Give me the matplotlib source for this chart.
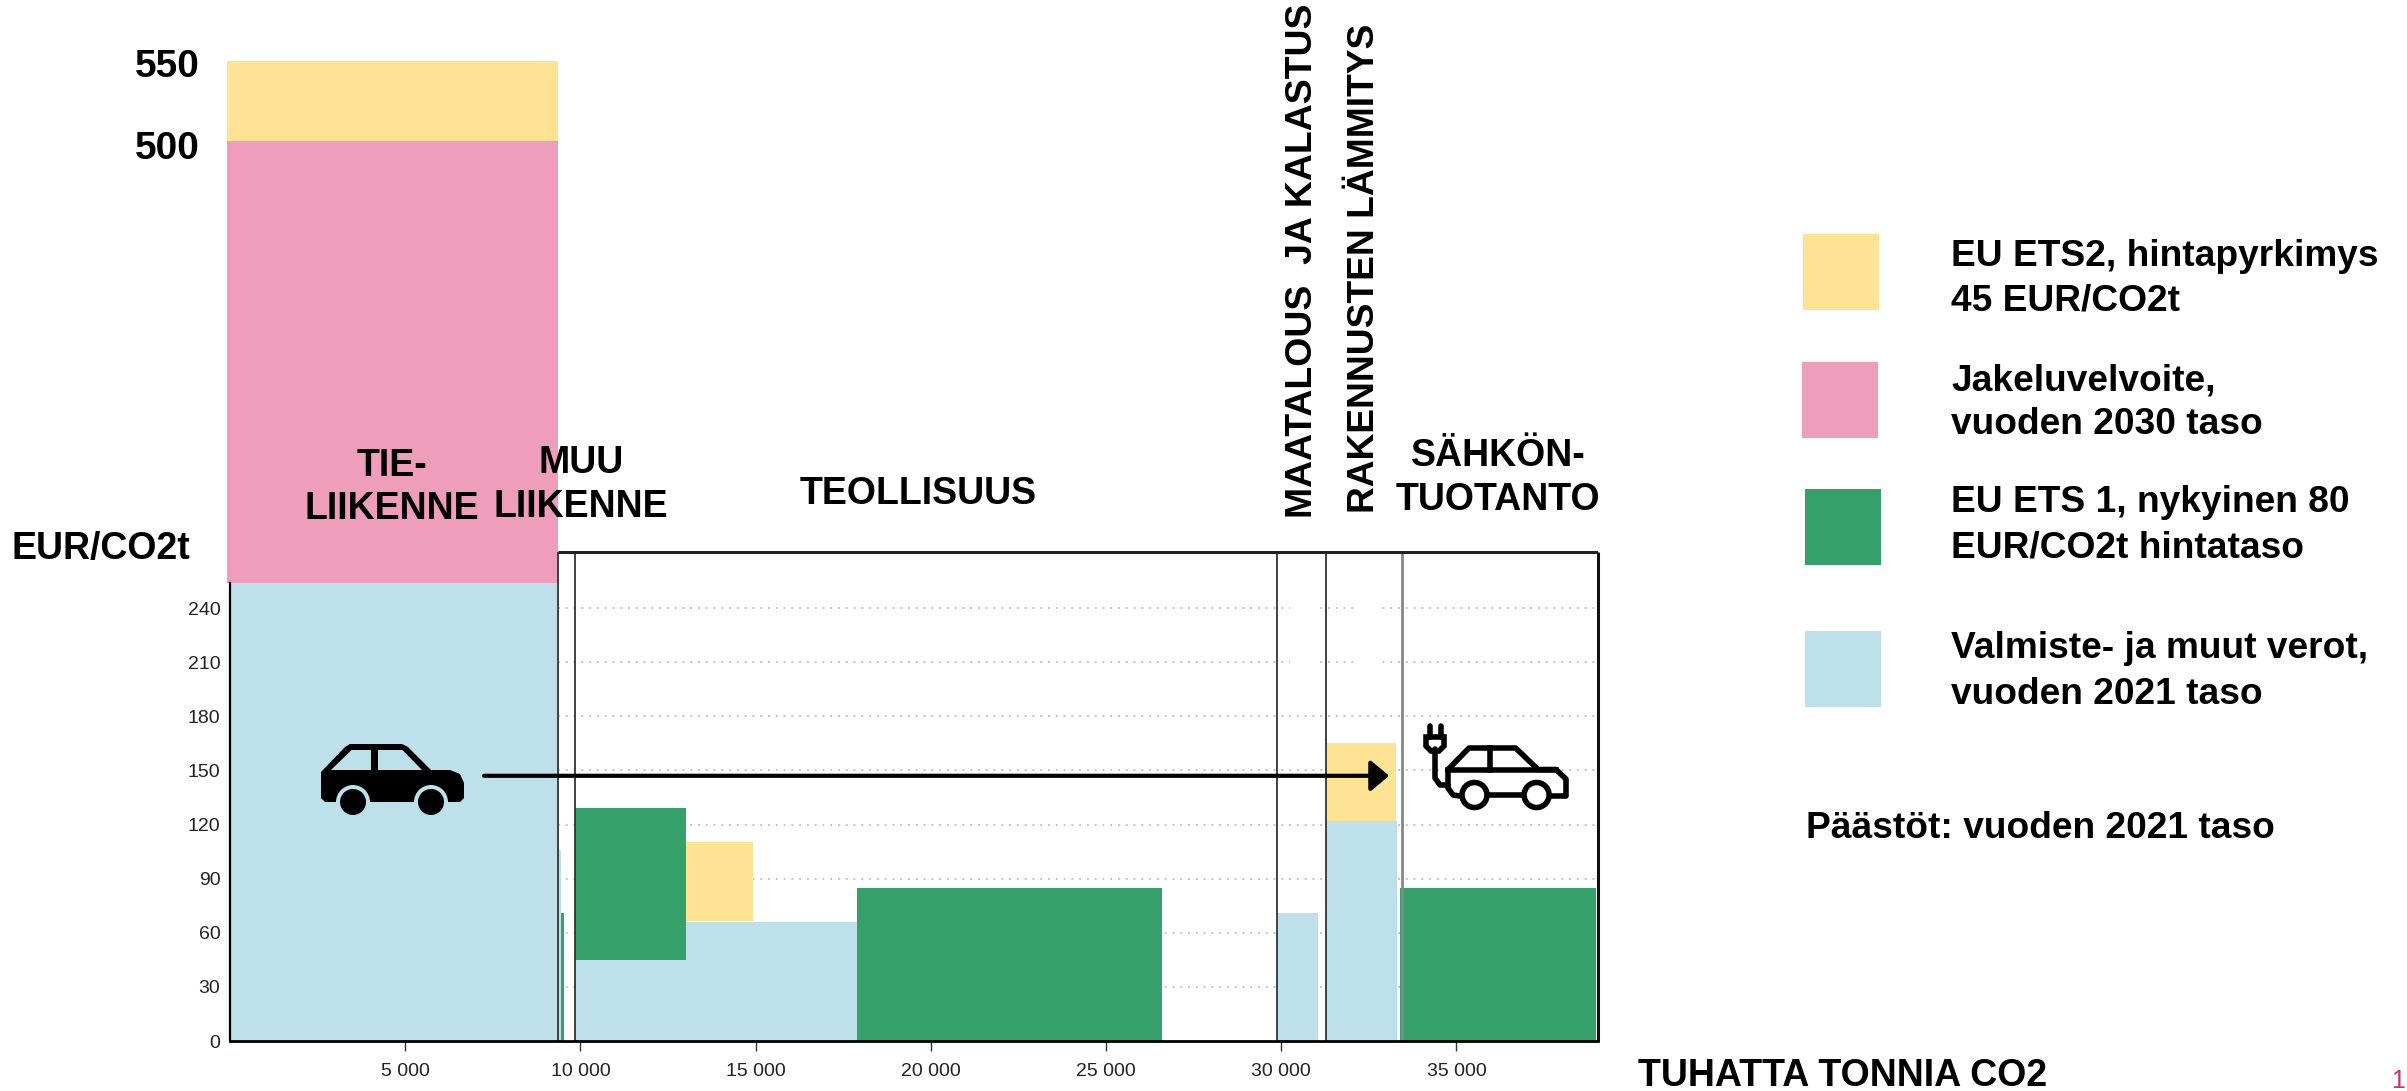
import matplotlib
matplotlib.use('Agg')
import matplotlib.pyplot as plt
from matplotlib import font_manager
from matplotlib.patches import Circle, Polygon, Rectangle

# Varit
YELLOW = '#FEE394'
PINK = '#EE9DBB'
GREEN = '#35A069'
BLUE = '#BDE0EA'

# Palkit: alku (x), leveys, alaraja, ylaraja
blue_x = [0, 9360, 9860, 13010, 29900, 31290]
blue_w = [9360, 100, 3150, 4890, 1150, 2010]
blue_top = [254, 105.6, 45, 66, 71, 121.7]

green_x = [9460, 9860, 17900, 33390]
green_w = [80, 3150, 8700, 5590]
green_bottom = [0, 45, 0, 0]
green_top = [71, 129, 85, 85]

yellow_x = [-85, 13010, 31290]
yellow_w = [9445, 1920, 1980]
yellow_bottom = [499, 66.5, 121.7]
yellow_top = [543, 110.5, 165]

pink_x = [-85]
pink_w = [9445]
pink_bottom = [254]
pink_top = [499]

sector_lines = [9360, 9860, 29880, 31280]
sector_line_last = 33450

x_ticks = [5000, 10000, 15000, 20000, 25000, 30000, 35000]
x_tick_labels = ['5 000', '10 000', '15 000', '20 000', '25 000', '30 000', '35 000']
y_ticks = [0, 30, 60, 90, 120, 150, 180, 210, 240]

legend_items = [
    (YELLOW, 1803, 234, 'EU ETS2, hintapyrkimys', '45 EUR/CO2t', 254, 299),
    (PINK, 1802, 362, 'Jakeluvelvoite,', 'vuoden 2030 taso', 379, 423),
    (GREEN, 1805, 489, 'EU ETS 1, nykyinen 80', 'EUR/CO2t hintataso', 501, 546),
    (BLUE, 1805, 631, 'Valmiste- ja muut verot,', 'vuoden 2021 taso', 647, 692),
]

installed = {f.name for f in font_manager.fontManager.ttflist}
NARROW = 'Liberation Sans Narrow' if 'Liberation Sans Narrow' in installed else 'Liberation Sans'
plt.rcParams['font.family'] = 'Liberation Sans'

fig = plt.figure(figsize=(24.07, 10.91), dpi=100)
ax = fig.add_axes([230 / 2407, 50 / 1091, 1368 / 2407, 1041 / 1091])
ax.set_xlim(0, 39041)
ax.set_ylim(0, 577)
ax.patch.set_alpha(0)

# Katkoviivaruudukko
for y in y_ticks[1:]:
    ax.hlines(y, 9360, 39041, color='#c4c4c4', lw=1.4, linestyles=(0, (1, 3)), zorder=1)
# valkoiset aukot ruudukossa pystyotsikoiden kohdalla
ax.bar([30250, 32040], [200, 200], width=[850, 850], bottom=200, align='edge', color='white', zorder=1.5)

ax.bar(blue_x, blue_top, width=blue_w, align='edge', color=BLUE, zorder=2)
ax.bar(green_x, [t - b for t, b in zip(green_top, green_bottom)], width=green_w,
       bottom=green_bottom, align='edge', color=GREEN, zorder=3)
ax.bar(yellow_x, [t - b for t, b in zip(yellow_top, yellow_bottom)], width=yellow_w,
       bottom=yellow_bottom, align='edge', color=YELLOW, zorder=3)
ax.bar(pink_x, [t - b for t, b in zip(pink_top, pink_bottom)], width=pink_w,
       bottom=pink_bottom, align='edge', color=PINK, zorder=3)
for b in ax.patches:
    b.set_clip_on(False)

# Sektorirajat ja kehys
ax.vlines(sector_lines, 0, 271, color='#333333', lw=1.3, zorder=4)
ax.vlines(sector_line_last, 0, 271, color='#888888', lw=2, zorder=4)
ax.hlines(271, 9360, 39041, color='#222222', lw=2.2, zorder=4)
ax.vlines(39041, 0, 271, color='#111111', lw=2.2, zorder=5, clip_on=False)

for s in ['top', 'right']:
    ax.spines[s].set_visible(False)
ax.spines['left'].set_bounds(0, 254)
ax.spines['left'].set_linewidth(1.6)
ax.spines['left'].set_zorder(5)
ax.spines['bottom'].set_linewidth(2)
ax.spines['bottom'].set_zorder(5)
ax.set_xticks(x_ticks)
ax.set_xticklabels(x_tick_labels, fontfamily=NARROW, fontsize=14, color='#222222')
ax.set_yticks(y_ticks)
ax.set_yticklabels([str(v) for v in y_ticks], fontfamily=NARROW, fontsize=14, color='#222222')
ax.tick_params(axis='x', length=7, width=1, pad=9, color='#333333')
ax.tick_params(axis='y', length=0, pad=7)

# Nuoli autosta sahkoautoon
ax.annotate('', xy=(33080, 147), xytext=(7250, 147), zorder=6,
            arrowprops=dict(arrowstyle='-|>,head_length=0.56,head_width=0.47', mutation_scale=20,
                            lw=3, color='black', shrinkA=0, shrinkB=0))

# Paalla oleva akseli teksteille ja kuvakkeille, yksikkona pikseli
over = fig.add_axes([0, 0, 1, 1], zorder=10)
over.set_xlim(0, 2407)
over.set_ylim(1091, 0)
over.axis('off')


def label(x, y, s, size=27, ha='left', rot=0, color='black', weight='bold'):
    over.text(x, y, s, fontsize=size, ha=ha, va='center', rotation=rot, color=color, fontweight=weight)


label(392, 466, 'TIE-', ha='center')
label(392, 509, 'LIIKENNE', ha='center')
label(581, 463, 'MUU', ha='center')
label(581, 507, 'LIIKENNE', ha='center')
label(918, 494, 'TEOLLISUUS', ha='center')
label(1498, 456, 'SÄHKÖN-', ha='center')
label(1498, 500, 'TUOTANTO', ha='center')
label(12, 549, 'EUR/CO2t')
label(200, 67, '550', ha='right', size=28)
label(200, 149, '500', ha='right', size=28)
label(1303, 261, 'MAATALOUS  JA KALASTUS', ha='center', rot=90, size=26.9)
label(1365, 268, 'RAKENNUSTEN LÄMMITYS', ha='center', rot=90, size=26.7)
label(1638, 1076, 'TUHATTA TONNIA CO2', size=27)
label(2398, 1081, '1', ha='center', size=18, color='#C8306E', weight='normal')

# Selite
for col, sx, sy, line1, line2, y1, y2 in legend_items:
    over.add_patch(Rectangle((sx, sy), 76, 76, color=col, lw=0))
    label(1951, y1 + 2, line1, size=26.7)
    label(1951, y2 + 2, line2, size=26.7)
label(1806, 828, 'Päästöt: vuoden 2021 taso', size=26.7)

# Polttomoottoriauto
over.add_patch(Polygon([(321, 772), (345, 747), (350, 744), (402, 744), (408, 747), (431, 770), (450, 770),
                        (460, 774), (464, 783), (464, 798), (460, 802), (325, 802), (321, 798)],
                       color='black', lw=0))
over.add_patch(Polygon([(331, 770), (351.5, 750), (371, 750), (371, 770)], color=BLUE, lw=0))
over.add_patch(Polygon([(378, 770), (378, 750), (402.5, 750), (422, 770)], color=BLUE, lw=0))
for cx in [353, 431]:
    over.add_patch(Circle((cx, 802), 17, color=BLUE, lw=0))
    over.add_patch(Circle((cx, 802), 13, color='black', lw=0))

# Sahkoauto
lw = 4
outline = [(1460, 796), (1453, 795), (1448, 788), (1448, 769.5), (1469, 748), (1515.6, 748), (1538, 769.5),
           (1556, 769.5), (1566, 779), (1566, 796), (1551, 796)]
over.plot(*zip(*outline), color='black', lw=lw, solid_joinstyle='round', solid_capstyle='round')
over.plot([1489, 1522], [795, 795], color='black', lw=lw)
over.plot([1448, 1556], [769.5, 769.5], color='black', lw=lw)
over.plot([1489.7, 1489.7], [748, 769.5], color='black', lw=lw)
for cx in [1474.5, 1536.6]:
    over.add_patch(Circle((cx, 795), 12.5, fc='white', ec='black', lw=lw))
over.plot([1435, 1435, 1440, 1448], [749, 778, 785, 785], color='black', lw=lw, solid_capstyle='round')
over.add_patch(Polygon([(1426, 737), (1444, 737), (1444, 746), (1439, 751), (1431, 751), (1426, 746)],
                       fc='white', ec='black', lw=lw))
over.plot([1429.5, 1429.5], [726, 737], color='black', lw=lw, solid_capstyle='round')
over.plot([1440.5, 1440.5], [726, 737], color='black', lw=lw, solid_capstyle='round')

fig.savefig('out.png', dpi=100, facecolor='white')
